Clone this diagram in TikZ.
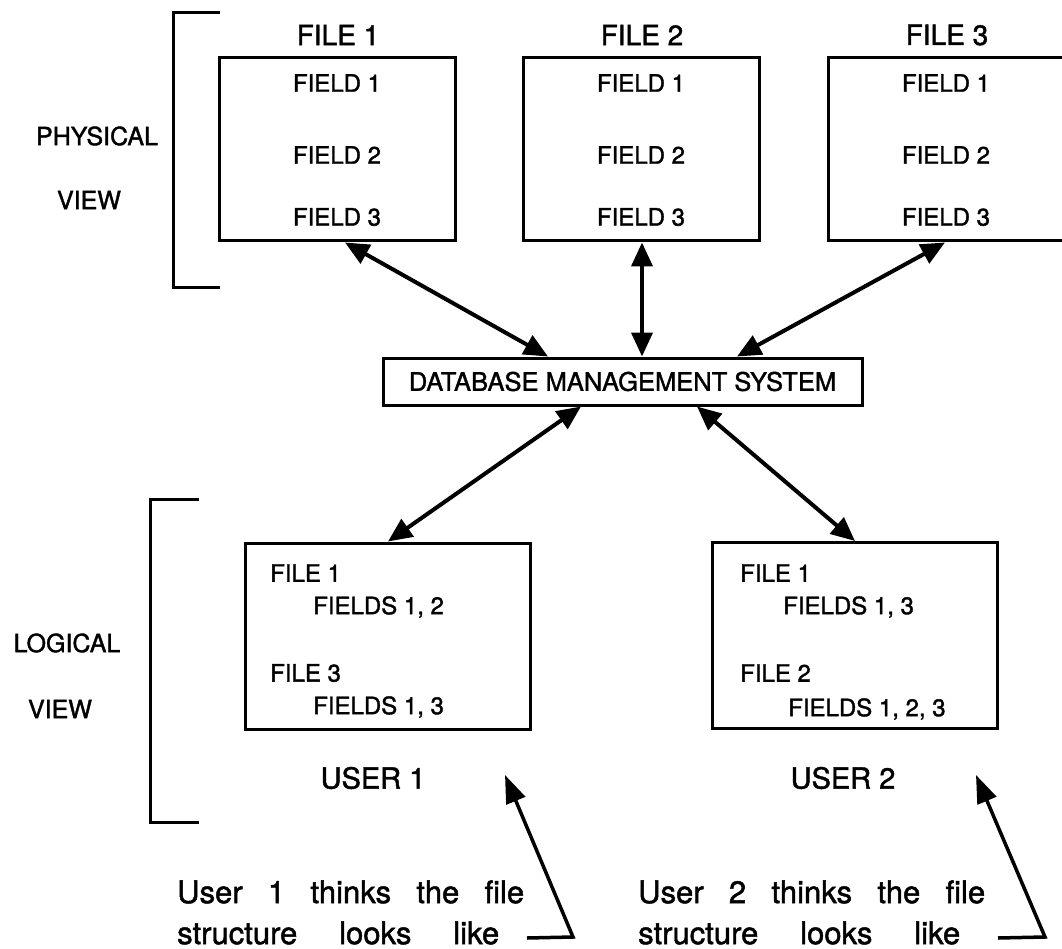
\documentclass[tikz,border=0pt]{standalone}
\usepackage{fontspec}
\setmainfont{TeX Gyre Heros}[FakeBold=1.5]
\usetikzlibrary{arrows.meta}

\begin{document}
\begin{tikzpicture}[x=1pt,y=-1pt,
  filebox/.style={draw, line width=3pt, minimum width=236pt, minimum height=183pt, inner sep=0pt},
  userbox/.style={draw, line width=3pt, minimum width=285pt, minimum height=186pt, inner sep=0pt},
  dbbox/.style={draw, line width=3pt, minimum width=479pt, minimum height=47pt, inner sep=0pt,
                font=\fontsize{25.5}{27}\selectfont},
  link/.style={line width=4pt,
               {Triangle[length=24pt,width=21pt]}-{Triangle[length=24pt,width=21pt]}},
  pointer/.style={line width=3.5pt, line join=miter, -{Triangle[length=28pt,width=20pt]}},
  bracket/.style={line width=3pt},
  title/.style={font=\fontsize{28}{30}\selectfont, inner sep=0pt},
  side/.style={font=\fontsize{25}{27}\selectfont, inner sep=0pt},
  fieldtxt/.style={font=\fontsize{24}{26}\selectfont, inner sep=0pt},
  usertxt/.style={font=\fontsize{24}{26}\selectfont, inner sep=0pt, anchor=west},
  userlbl/.style={font=\fontsize{29}{31}\selectfont, inner sep=0pt},
  notetxt/.style={font=\fontsize{31}{33}\selectfont, inner sep=0pt, anchor=west},
]
\useasboundingbox (0,0) rectangle (1062,949);

% ---- physical view ----
\draw[bracket] (220,13) -- (173,13) -- (173,288) -- (220,288);
\node[side] (phys) at (97,136) {PHYSICAL};
\node[side] (pview) at (89,200) {VIEW};

\foreach \n/\x in {1/337,2/641,3/946}{
  \node[title] (ft\n) at (\x+1,35) {FILE \n};
  \node[filebox] (f\n) at (\x,149.5) {};
  \node[fieldtxt] (f\n a) at (\x,83) {FIELD 1};
  \node[fieldtxt] (f\n b) at (\x,155) {FIELD 2};
  \node[fieldtxt] (f\n c) at (\x,217) {FIELD 3};
}

% ---- database management system ----
\node[dbbox] (dbms) at (622.5,381.5) {DATABASE MANAGEMENT SYSTEM};

% ---- logical view ----
\draw[bracket] (199,499) -- (150,499) -- (150,822) -- (199,822);
\node[side] (logi) at (67,643) {LOGICAL};
\node[side] (lview) at (60,709) {VIEW};

\node[userbox] (u1) at (387.5,636) {};
\node[usertxt] (u1a) at (270,573) {FILE 1};
\node[usertxt] (u1b) at (313,607) {FIELDS 1, 2};
\node[usertxt] (u1c) at (270,673) {FILE 3};
\node[usertxt] (u1d) at (313,707) {FIELDS 1, 3};
\node[userlbl] (u1l) at (373,778) {USER 1};

\node[userbox] (u2) at (855,635.5) {};
\node[usertxt] (u2a) at (740,573) {FILE 1};
\node[usertxt] (u2b) at (783,607) {FIELDS 1, 3};
\node[usertxt] (u2c) at (740,673) {FILE 2};
\node[usertxt] (u2d) at (788,709) {FIELDS 1, 2, 3};
\node[userlbl] (u2l) at (843,778) {USER 2};

% ---- connectors through the DBMS ----
\draw[link] ([xshift=8pt]f1.south) -- ([xshift=-74.5pt]dbms.north);
\draw[link] ([xshift=1pt]f2.south) -- ([xshift=19.5pt]dbms.north);
\draw[link] ([xshift=-1pt]f3.south) -- ([xshift=114.5pt]dbms.north);
\draw[link] ([xshift=-41.5pt]dbms.south) -- ([xshift=0.5pt]u1.north);
\draw[link] ([xshift=74.5pt]dbms.south) -- (u2.north);

% ---- notes ----
\node[notetxt] (n1a) at (177,892) {\makebox[347pt][s]{User 1 thinks the file}};
\node[notetxt] (n1b) at (177,933) {\makebox[322pt][s]{structure looks like}};
\node[notetxt] (n2a) at (638,892) {\makebox[347pt][s]{User 2 thinks the file}};
\node[notetxt] (n2b) at (638,933) {\makebox[322pt][s]{structure looks like}};

\coordinate (p1s) at (527,938);
\coordinate (p1c) at (573,937);
\coordinate (p1t) at (505,775);
\coordinate (p2s) at (998,938);
\coordinate (p2c) at (1045,937);
\coordinate (p2t) at (976,775);
\draw[pointer] (p1s) -- (p1c) -- (p1t);
\draw[pointer] (p2s) -- (p2c) -- (p2t);
\end{tikzpicture}
\end{document}
